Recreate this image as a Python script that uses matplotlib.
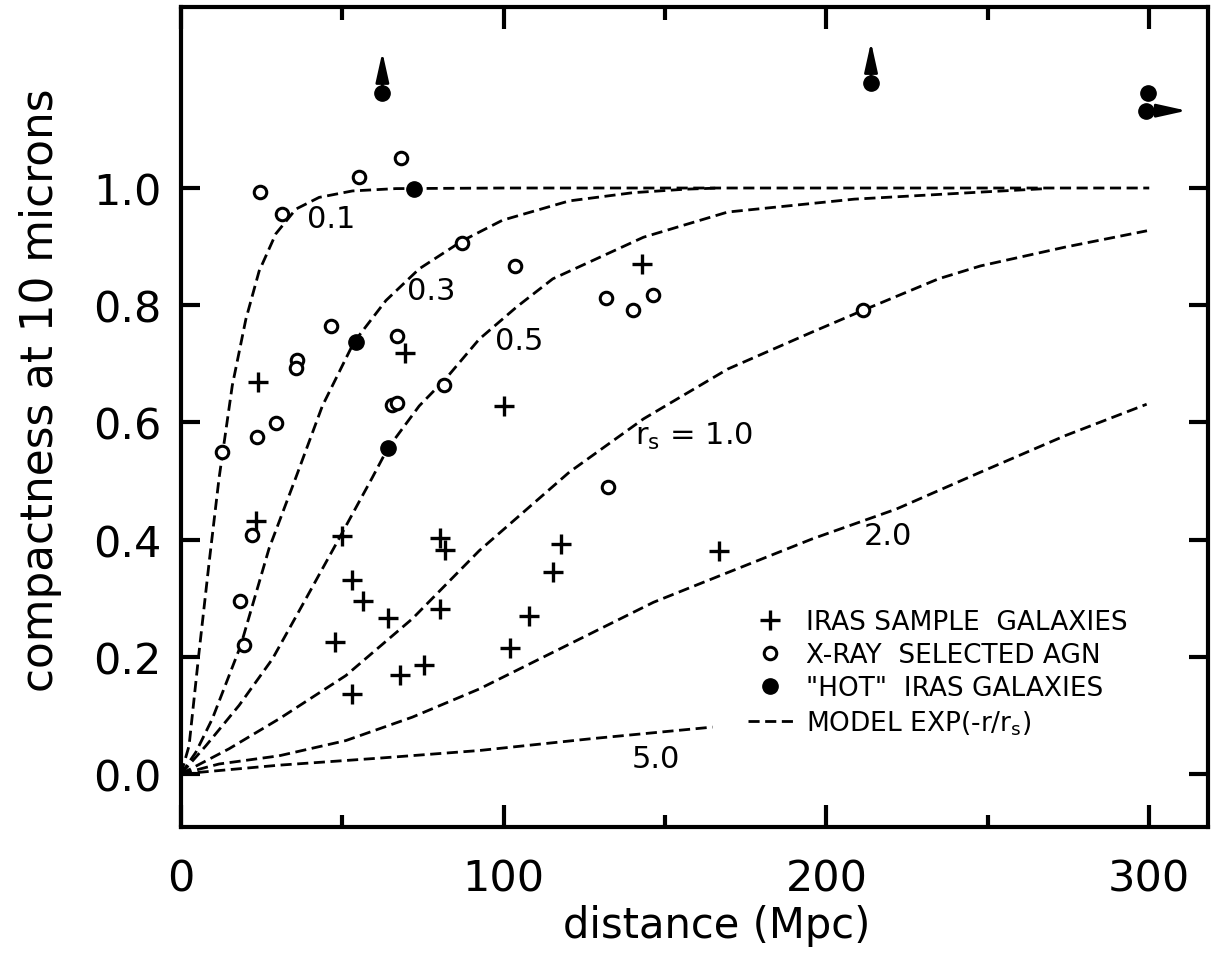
import numpy as np
import matplotlib.pyplot as plt

plt.rcParams['font.family'] = 'DejaVu Sans'

# ---- IRAS sample galaxies (+) : distance (Mpc), compactness
iras_dist = [23.9, 69.5, 100.2, 23.3, 49.9, 80.3, 81.9, 117.8, 115.3, 53.0, 56.4,
             64.2, 47.8, 80.3, 107.9, 102.0, 67.9, 75.3, 53.0, 142.9, 166.8]
iras_comp = [0.669, 0.718, 0.628, 0.432, 0.406, 0.403, 0.382, 0.392, 0.345, 0.331, 0.295,
             0.266, 0.225, 0.282, 0.270, 0.215, 0.169, 0.186, 0.137, 0.870, 0.381]

# ---- X-ray selected AGN (open circles)
xray_dist = [24.4, 31.4, 55.2, 68.3, 87.2, 103.5, 46.4, 66.9, 36.1, 35.6, 29.4, 23.7,
             12.8, 65.4, 67.0, 81.6, 131.8, 140.1, 146.2, 211.2, 132.2, 18.4, 19.5, 21.9]
xray_comp = [0.994, 0.956, 1.019, 1.051, 0.906, 0.867, 0.765, 0.748, 0.706, 0.692, 0.599, 0.575,
             0.550, 0.630, 0.633, 0.664, 0.812, 0.791, 0.817, 0.791, 0.489, 0.296, 0.220, 0.407]

# ---- "hot" IRAS galaxies (filled circles)
hot_dist = [62.4, 72.2, 54.2, 64.0, 213.8, 299.5, 298.9]
hot_comp = [1.163, 0.999, 0.738, 0.556, 1.180, 1.163, 1.132]

# lower limits (arrows) on some hot galaxies
lim_dist = [62.4, 213.8, 298.9]
lim_comp = [1.163, 1.180, 1.132]
lim_tip_dist = [62.4, 213.8, 311.6]
lim_tip_comp = [1.232, 1.249, 1.132]

# ---- model curves exp(-r/rs)
rs_labels = ['0.1', '0.3', '0.5', r'r$_{\rm s}$ = 1.0', '2.0', '5.0']
model_dist = [
    [0, 2.5, 5.6, 8.7, 11.8, 15.9, 20.1, 24.2, 29.4, 35.6, 42.8, 53.1, 66.6, 100, 150, 200, 250, 300],
    [0, 4.6, 9.7, 18.5, 27.3, 35.6, 43.8, 53.6, 63.5, 73.8, 87.2, 99.6, 120.3, 140, 156.3, 167],
    [0, 7.7, 18.0, 28.3, 38.7, 49.5, 59.3, 64.0, 73.8, 82.1, 92.4, 104, 115.2, 143.3, 169.4,
     208.6, 247.7, 268],
    [0, 14.9, 30.4, 51.1, 71.7, 92.4, 120.3, 143.3, 169.4, 195.5, 211.2, 234.7, 247.7, 273.8, 299.3],
    [0, 11.8, 30.4, 51.1, 71.7, 92.4, 146.4, 166.8, 195.5, 221.6, 247.7, 273.8, 299.2],
    [0, 30.4, 61.4, 92.4, 126.8, 164.7],
]
model_comp = [
    [0, 0.048, 0.208, 0.360, 0.505, 0.663, 0.776, 0.858, 0.922, 0.964, 0.984, 0.995, 0.999,
     1.0, 1.0, 1.0, 1.0, 1.0],
    [0, 0.037, 0.094, 0.219, 0.385, 0.506, 0.628, 0.737, 0.808, 0.862, 0.910, 0.945, 0.978,
     0.992, 0.998, 1.0],
    [0, 0.048, 0.117, 0.196, 0.299, 0.407, 0.506, 0.555, 0.628, 0.675, 0.742, 0.797, 0.845,
     0.916, 0.959, 0.981, 0.993, 0.999],
    [0, 0.043, 0.094, 0.168, 0.265, 0.381, 0.515, 0.606, 0.691, 0.754, 0.791, 0.845, 0.867,
     0.899, 0.927],
    [0, 0.017, 0.031, 0.057, 0.097, 0.145, 0.293, 0.338, 0.401, 0.452, 0.515, 0.577, 0.631],
    [0, 0.015, 0.027, 0.040, 0.060, 0.080],
]
# where the rs labels sit (data coords)
label_xy = [(46.4, 0.948), (77.4, 0.825), (104.8, 0.740), (159.0, 0.577), (219.0, 0.407),
            (147.0, 0.026)]

fig = plt.figure(figsize=(12.27, 9.70), dpi=100)
ax = fig.add_axes([0.1475, 0.1464, 0.837, 0.8454])

dash = (4, 2)
for d, c in zip(model_dist, model_comp):
    ax.plot(d, c, color='black', lw=2.0, dashes=dash)

for lab, (x, y) in zip(rs_labels, label_xy):
    ax.text(x, y, lab, fontsize=22, ha='center', va='center')

for x0, y0, x1, y1 in zip(lim_dist, lim_comp, lim_tip_dist, lim_tip_comp):
    ax.annotate('', xy=(x1, y1), xytext=(x0, y0),
                arrowprops=dict(arrowstyle='-|>,head_length=0.9,head_width=0.2',
                                color='black', lw=2.0, shrinkA=0, shrinkB=0,
                                mutation_scale=20))

p_iras, = ax.plot(iras_dist, iras_comp, ls='none', marker='+', ms=14, mew=2.4,
                  color='black', label='IRAS SAMPLE  GALAXIES')
p_xray, = ax.plot(xray_dist, xray_comp, ls='none', marker='o', ms=9, mew=2.2,
                  mfc='white', mec='black', label='X-RAY  SELECTED AGN')
p_hot, = ax.plot(hot_dist, hot_comp, ls='none', marker='o', ms=11,
                 color='black', label='"HOT"  IRAS GALAXIES', zorder=5)

leg_line, = ax.plot([], [], color='black', lw=2.0, dashes=dash,
                    label=r'MODEL EXP(-r/r$_{\rm s}$)')

ax.legend(handles=[p_iras, p_xray, p_hot, leg_line], loc='upper left',
          bbox_to_anchor=(0.552, 0.266), frameon=False, fontsize=19,
          borderpad=0, borderaxespad=0, handlelength=1.7, handletextpad=0.5,
          labelspacing=0.27, numpoints=1)

ax.set_xlim(0, 318.2)
ax.set_ylim(-0.0905, 1.309)

ax.set_xticks([0, 100, 200, 300])
ax.set_xticks([50, 150, 250], minor=True)
ax.set_yticks([0.0, 0.2, 0.4, 0.6, 0.8, 1.0])
ax.set_yticklabels(['0.0', '0.2', '0.4', '0.6', '0.8', '1.0'])

ax.tick_params(axis='both', which='both', direction='in', top=True, right=True,
               width=3, labelsize=31)
ax.tick_params(axis='x', which='major', length=16, pad=22)
ax.tick_params(axis='x', which='minor', length=9)
ax.tick_params(axis='y', which='major', length=14, pad=14)

for s in ax.spines.values():
    s.set_linewidth(3)

ax.set_xlabel('distance (Mpc)', fontsize=30)
ax.set_ylabel('compactness at 10 microns', fontsize=31.5)
ax.xaxis.set_label_coords(0.522, -0.094)
ax.yaxis.set_label_coords(-0.116, 0.534)

fig.savefig('out.png', dpi=100)
